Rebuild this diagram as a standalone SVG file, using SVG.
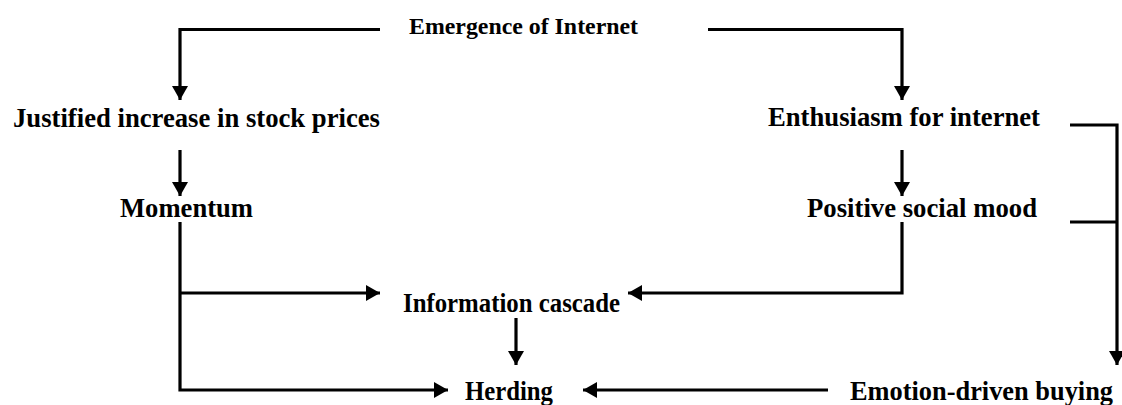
<svg xmlns="http://www.w3.org/2000/svg" width="1122" height="405" viewBox="0 0 1122 405">
<style>
text{font-family:"Liberation Serif","Times New Roman",serif;font-weight:bold;font-size:27px;fill:#000;text-anchor:middle}
.c{fill:none;stroke:#000;stroke-width:3.2;stroke-linecap:butt;stroke-linejoin:miter}
</style>
<defs>
<marker id="ah" markerUnits="userSpaceOnUse" markerWidth="16" markerHeight="16" viewBox="0 0 14 16" refX="14" refY="8" orient="auto">
<path d="M0,0 L14,8 L0,16 Z" fill="#000"/>
</marker>
</defs>
<rect width="1122" height="405" fill="#fff"/>
<g id="connectors">
<path class="c" d="M380,29.5 H180 V100" marker-end="url(#ah)"/>
<path class="c" d="M708,29.5 H902 V100" marker-end="url(#ah)"/>
<path class="c" d="M180,150 V196" marker-end="url(#ah)"/>
<path class="c" d="M902,150 V196" marker-end="url(#ah)"/>
<path class="c" d="M1070,125 H1117 V222 H1070 M1117,222 V365" marker-end="url(#ah)"/>
<path class="c" d="M180,222 V390 H448" marker-end="url(#ah)"/>
<path class="c" d="M180,293 H380" marker-end="url(#ah)"/>
<path class="c" d="M902,222 V293 H628" marker-end="url(#ah)"/>
<path class="c" d="M516,318 V365" marker-end="url(#ah)"/>
<path class="c" d="M828,390 H583" marker-end="url(#ah)"/>
</g>
<g id="n-emergence"><text x="523.5" y="34" style="font-size:24px" textLength="229" lengthAdjust="spacingAndGlyphs">Emergence of Internet</text></g>
<g id="n-justified"><text x="196.5" y="127" textLength="367" lengthAdjust="spacingAndGlyphs">Justified increase in stock prices</text></g>
<g id="n-enthusiasm"><text x="904" y="126" textLength="272" lengthAdjust="spacingAndGlyphs">Enthusiasm for internet</text></g>
<g id="n-momentum"><text x="186.5" y="217" textLength="133" lengthAdjust="spacingAndGlyphs">Momentum</text></g>
<g id="n-positive"><text x="922" y="217" textLength="230" lengthAdjust="spacingAndGlyphs">Positive social mood</text></g>
<g id="n-cascade"><text x="511.5" y="312" textLength="217" lengthAdjust="spacingAndGlyphs">Information cascade</text></g>
<g id="n-herding"><text x="509" y="400" textLength="88" lengthAdjust="spacingAndGlyphs">Herding</text></g>
<g id="n-emotion"><text x="981.5" y="400" textLength="263" lengthAdjust="spacingAndGlyphs">Emotion-driven buying</text></g>
</svg>
